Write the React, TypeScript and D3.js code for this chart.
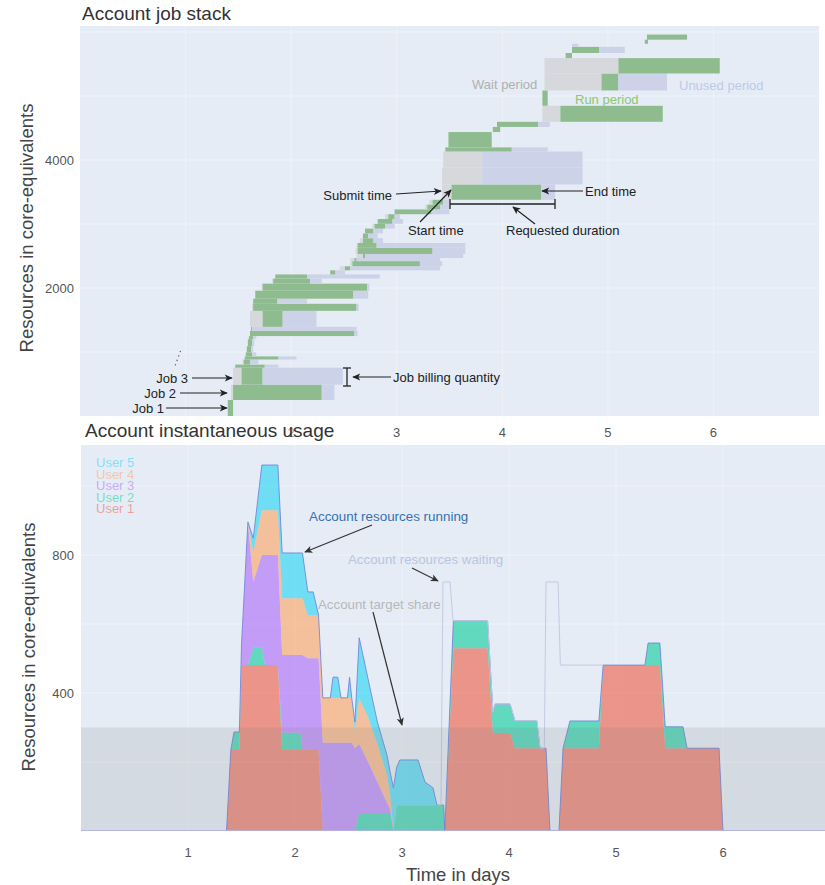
import React from "react";
import * as d3 from "d3";

// ---------------- Job stack data (time in days, size in core-equivalents) ----------------
const jobSubmit = [1.40,1.43,1.45,1.47,1.54,1.56,1.57,1.58,1.59,1.60,1.61,1.62,1.61,1.63,1.64,1.66,1.72,1.82,1.85,2.37,2.46,2.56,2.56,2.62,2.61,2.62,2.65,2.68,2.70,2.77,2.82,2.89,2.98,3.27,3.31,3.43,3.43,3.44,3.46,3.49,3.91,3.95,4.38,4.38,4.40,4.40,4.60,4.66,4.66,5.35,5.37];
const jobStart = [1.40,1.45,1.53,1.47,1.55,1.56,1.57,1.58,1.59,1.60,1.61,1.62,1.73,1.64,1.64,1.66,1.73,1.83,1.85,2.37,2.51,2.58,2.60,2.68,2.63,2.63,2.68,2.68,2.70,2.79,2.82,2.92,2.98,3.29,3.34,3.52,3.81,3.81,3.46,3.49,3.91,3.95,4.55,4.38,4.94,5.10,4.60,4.66,4.66,5.35,5.37];
const jobEnd = [1.45,2.29,1.73,1.75,1.61,1.88,1.63,1.62,1.63,1.64,2.60,1.63,1.92,2.62,1.87,2.59,2.72,2.18,2.15,2.42,2.56,3.22,2.62,2.70,3.34,2.81,2.78,2.73,2.78,2.89,2.96,2.98,3.33,3.41,3.44,4.37,3.81,3.81,4.09,3.90,3.98,4.34,5.52,4.43,5.10,6.06,4.66,4.92,4.66,5.38,5.75];
const jobRequestedEnd = [1.45,2.41,2.49,1.88,1.69,2.05,1.67,1.64,1.65,1.67,2.63,2.62,2.24,2.64,2.15,2.73,2.74,2.29,2.84,2.51,3.41,3.43,3.41,3.63,3.65,3.65,2.87,2.82,2.87,2.98,3.06,3.03,3.50,3.50,3.50,4.50,4.76,4.76,4.43,3.90,3.98,4.45,5.52,4.43,5.56,6.06,4.66,5.16,4.72,5.38,5.75];
const jobCores = [250,240,265,48,80,48,64,96,110,48,80,64,250,110,80,125,110,80,64,64,64,80,48,64,96,75,75,75,75,75,75,75,75,75,75,240,265,250,64,240,80,80,250,240,265,240,80,96,48,64,80];

// ---------------- Instantaneous usage data ----------------
const usageTime = [0,1.36,1.40,1.43,1.48,1.50,1.56,1.61,1.69,1.72,1.84,1.88,2.05,2.07,2.12,2.17,2.22,2.26,2.33,2.355,2.40,2.43,2.49,2.51,2.53,2.56,2.60,2.68,2.77,2.86,2.89,2.92,2.95,2.98,3.15,3.215,3.29,3.327,3.39,3.40,3.48,3.80,3.85,3.87,4.01,4.056,4.26,4.29,4.346,4.383,4.467,4.505,4.57,4.84,4.88,5.27,5.30,5.41,5.46,5.626,5.664,5.963,6.00,7.00];
const user1 = [0,0,235,235,235,481,481,481,481,481,481,235,235,235,235,235,235,0, 0,0,0,0,0,0,0,0,0,0,0,0,0,0,0,0,0,0,0,0,0,0, 530,530,284,284,284,240,240,240,240,0,0,240,240,240,481,481,481,481,240,240,240,240,0,0];
const user2 = [0,0,0,52,52,0,0,50,50,0,0,50,50,0,0,0,0,0,0,0,0,0,0,0,0,0,52,52,52,52,52,0,75,75,75,75,75,75,75,0,79,79,60,84,84,79,79,0,0,0,0,0,79,79,0,0,64,64,62,62,0,0,0,0];
const user3 = [0,0,0,0,0,60,415,191,269,319,319,225,225,275,266,266,266,256,256,256,256,256,256,256,256,240,200,150,90,30,10,0, 0,0,0,0,0,0,0,0,0,0,0,0,0,0,0,0,0,0,0,0,0,0,0,0,0,0,0,0,0,0,0,0];
const user4 = [0,0,0,0,0,0,0,87,130,130,130,165,165,165,125,125,125,130,130,130,130,130,130,130,130,50,134,130,110,80,40,0, 0,0,0,0,0,0,0,0,0,0,0,0,0,0,0,0,0,0,0,0,0,0,0,0,0,0,0,0,0,0,0,0];
const user5 = [0,0,0,0,0,0,0,40,131,131,131,131,131,131,67,67,0,0,0,60,60,0,0,60,0,26,174,113,64,58,68,125,110,131,131,67,50,0, 0,0,0,0,0,0,0,0,0,0,0,0,0,0,0,0,0,0,0,0,0,0,0,0,0,0];
const userNames = ["User 1", "User 2", "User 3", "User 4", "User 5"];
const userColors = ["#EF553B", "#00CC96", "#AB63FA", "#FFA15A", "#19D3F3"];

const waitingTime = [3.33,3.364,3.383,3.449,3.477,3.80,3.85,3.87,4.01,4.056,4.26,4.29,4.33,4.346,4.458,4.48,4.88];
const waitingValue = [75,75,722,722,609,609,344,368,368,319,319,240,240,722,722,481,481];
const targetShare = 300;

const xTicks = [1, 2, 3, 4, 5, 6];
const topYGrid = [1000, 2000, 3000, 4000, 5000, 6000];
const topYTicks = [2000, 4000];
const botYGrid = [200, 400, 600, 800, 1000];
const botYTicks = [400, 800];

const FONT = '"Liberation Sans", Arial, sans-serif';
const BG = "#E5ECF6";

export default function App() {
  // scales
  const xTop = d3.scaleLinear().domain([0, 7]).range([80, 819]);
  const yTop = d3.scaleLinear().domain([0, 6094]).range([416, 26]);
  const xBot = d3.scaleLinear().domain([0, 7]).range([81, 830]);
  const yBot = d3.scaleLinear().domain([0, 1119]).range([831, 445]);

  const offsets = [0, ...Array.from(d3.cumsum(jobCores))];

  const rows = usageTime.map((t, i) => ({ t, u1: user1[i], u2: user2[i], u3: user3[i], u4: user4[i], u5: user5[i] }));
  const keys = ["u1", "u2", "u3", "u4", "u5"];
  const series = d3.stack<any>().keys(keys)(rows);
  const area = d3.area<any>().x((d) => xBot(d.data.t)).y0((d) => yBot(d[0])).y1((d) => yBot(d[1]));
  const totalLine = d3.line<any>().x((d) => xBot(d.t)).y((d) => yBot(d.u1 + d.u2 + d.u3 + d.u4 + d.u5));
  const waitLine = d3.line<number>().x((d, i) => xBot(waitingTime[i])).y((d) => yBot(d));

  const arrow = (x1: number, y1: number, x2: number, y2: number, color = "#222", id = "ahBlack") => (
    <line x1={x1} y1={y1} x2={x2} y2={y2} stroke={color} strokeWidth={1.2} markerEnd={`url(#${id})`} />
  );

  return (
    <svg width={825} height={885} style={{ position: "absolute", left: 0, top: 0, fontFamily: FONT }}>
      <defs>
        <marker id="ahBlack" viewBox="0 0 10 10" refX="9" refY="5" markerUnits="userSpaceOnUse" markerWidth={10} markerHeight={8} orient="auto">
          <path d="M0,0.5 L10,5 L0,9.5 L2.5,5 z" fill="#222" />
        </marker>
        <marker id="ahGray" viewBox="0 0 10 10" refX="9" refY="5" markerUnits="userSpaceOnUse" markerWidth={10} markerHeight={8} orient="auto">
          <path d="M0,0.5 L10,5 L0,9.5 L2.5,5 z" fill="#333" />
        </marker>
        <clipPath id="clipBot">
          <rect x={81} y={445} width={749} height={386} />
        </clipPath>
        <clipPath id="clipTop">
          <rect x={80} y={26} width={739} height={390} />
        </clipPath>
      </defs>

      {/* ===================== TOP: Account job stack ===================== */}
      <rect x={80} y={26} width={739} height={390} fill={BG} />
      {topYGrid.map((v) => (
        <line key={"tg" + v} x1={80} x2={819} y1={yTop(v)} y2={yTop(v)} stroke="#fff" strokeWidth={1} opacity={0.45} />
      ))}
      {xTicks.map((v) => (
        <line key={"tx" + v} x1={xTop(v)} x2={xTop(v)} y1={26} y2={416} stroke="#fff" strokeWidth={1} opacity={0.35} />
      ))}
      <g clipPath="url(#clipTop)">
        {jobCores.map((c, i) => {
          const y0 = yTop(offsets[i]);
          const y1 = yTop(offsets[i] + c);
          const h = y0 - y1;
          return (
            <g key={"job" + i}>
              <rect x={xTop(jobSubmit[i])} y={y1} width={Math.max(0, xTop(jobStart[i]) - xTop(jobSubmit[i]))} height={h} fill="#D6D8DC" />
              <rect x={xTop(jobStart[i])} y={y1} width={Math.max(0, xTop(jobEnd[i]) - xTop(jobStart[i]))} height={h} fill="#8FBC8F" />
              <rect x={xTop(jobEnd[i])} y={y1} width={Math.max(0, xTop(jobRequestedEnd[i]) - xTop(jobEnd[i]))} height={h} fill="#CCD2E8" />
            </g>
          );
        })}
      </g>
      {topYTicks.map((v) => (
        <text key={"tyl" + v} x={74} y={yTop(v)} dy="0.35em" textAnchor="end" fontSize={13} fill="#555">{v}</text>
      ))}
      {xTicks.map((v) => (
        <text key={"txl" + v} x={xTop(v)} y={437} textAnchor="middle" fontSize={13} fill="#555" fillOpacity={v <= 2 ? 0.6 : 1}>{v}</text>
      ))}
      <text x={82} y={20} fontSize={19} fill="#333">Account job stack</text>
      <text transform="translate(33,228) rotate(-90)" textAnchor="middle" fontSize={18.5} fill="#444">Resources in core-equivalents</text>

      {/* top annotations */}
      <text x={472} y={84} dy="0.35em" fontSize={13} fill="#B0B0B0">Wait period</text>
      <text x={575} y={99} dy="0.35em" fontSize={13} fill="#8CC870">Run period</text>
      <text x={679} y={85} dy="0.35em" fontSize={13} fill="#BCCAE8">Unused period</text>

      <text x={392} y={195} dy="0.35em" textAnchor="end" fontSize={13} fill="#222">Submit time</text>
      {arrow(396, 194, 441, 191)}
      <text x={408} y={230} dy="0.35em" fontSize={13} fill="#222">Start time</text>
      {arrow(420, 222, 451, 190)}
      <text x={585} y={191} dy="0.35em" fontSize={13} fill="#222">End time</text>
      {arrow(583, 191, 542, 191)}
      <line x1={450} x2={555} y1={204} y2={204} stroke="#222" strokeWidth={1.3} />
      <line x1={450} x2={450} y1={199} y2={209} stroke="#222" strokeWidth={1.3} />
      <line x1={555} x2={555} y1={199} y2={209} stroke="#222" strokeWidth={1.3} />
      <text x={506} y={230} dy="0.35em" fontSize={13} fill="#222">Requested duration</text>
      {arrow(535, 224, 513, 207)}

      <line x1={347} x2={347} y1={368} y2={386} stroke="#222" strokeWidth={1.3} />
      <line x1={343} x2={351} y1={368} y2={368} stroke="#222" strokeWidth={1.3} />
      <line x1={343} x2={351} y1={386} y2={386} stroke="#222" strokeWidth={1.3} />
      {arrow(391, 377, 353, 377)}
      <text x={393} y={377} dy="0.35em" fontSize={13} fill="#222">Job billing quantity</text>

      <text x={188} y={378} dy="0.35em" textAnchor="end" fontSize={13} fill="#222">Job 3</text>
      {arrow(192, 378, 232, 378)}
      <text x={176} y={393} dy="0.35em" textAnchor="end" fontSize={13} fill="#222">Job 2</text>
      {arrow(180, 393, 227, 393)}
      <text x={164} y={408} dy="0.35em" textAnchor="end" fontSize={13} fill="#222">Job 1</text>
      {arrow(166, 408, 227, 408)}
      <line x1={180.5} y1={351} x2={175} y2={366} stroke="#555" strokeWidth={1.2} strokeDasharray="1.2,3.5" />

      {/* ===================== BOTTOM: Account instantaneous usage ===================== */}
      <rect x={81} y={445} width={749} height={386} fill={BG} />
      {botYGrid.map((v) => (
        <line key={"bg" + v} x1={81} x2={830} y1={yBot(v)} y2={yBot(v)} stroke="#fff" strokeWidth={1} opacity={0.45} />
      ))}
      {xTicks.map((v) => (
        <line key={"bx" + v} x1={xBot(v)} x2={xBot(v)} y1={445} y2={831} stroke="#fff" strokeWidth={1} opacity={0.35} />
      ))}
      <g clipPath="url(#clipBot)">
        {series.map((s, i) => (
          <path key={"area" + i} d={area(s) || ""} fill={userColors[i]} fillOpacity={0.58} stroke="none" />
        ))}
        <path d={totalLine(rows) || ""} fill="none" stroke="#6F84D8" strokeWidth={1} strokeOpacity={0.85} />
        <path d={waitLine(waitingValue) || ""} fill="none" stroke="#C2CBE2" strokeWidth={1} />
        <rect x={81} y={yBot(targetShare)} width={749} height={yBot(0) - yBot(targetShare)} fill="#808080" fillOpacity={0.17} />
        <line x1={81} x2={830} y1={yBot(0)} y2={yBot(0)} stroke="#B4BAE4" strokeWidth={1.5} />
      </g>
      {botYTicks.map((v) => (
        <text key={"byl" + v} x={74} y={yBot(v)} dy="0.35em" textAnchor="end" fontSize={13} fill="#555">{v}</text>
      ))}
      {xTicks.map((v) => (
        <text key={"bxl" + v} x={xBot(v)} y={857} textAnchor="middle" fontSize={13} fill="#555">{v}</text>
      ))}
      <text x={85} y={437} fontSize={19} fill="#333">Account instantaneous usage</text>
      <text transform="translate(35,647) rotate(-90)" textAnchor="middle" fontSize={18.5} fill="#444">Resources in core-equivalents</text>
      <text x={458} y={881} textAnchor="middle" fontSize={18.5} fill="#444">Time in days</text>

      {/* legend */}
      {userNames.map((n, i) => (
        <text key={"lg" + i} x={96} y={513 - i * 11.5} fontSize={13} fill={userColors[i]} fillOpacity={0.5}>{n}</text>
      ))}

      {/* bottom annotations */}
      <text x={309} y={516} dy="0.35em" fontSize={13.4} fill="#3572B0">Account resources running</text>
      {arrow(372, 525, 305, 552, "#333", "ahGray")}
      <text x={348} y={559} dy="0.35em" fontSize={13.3} fill="#B9C6E2">Account resources waiting</text>
      {arrow(412, 568, 438, 581, "#333", "ahGray")}
      <text x={318} y={604} dy="0.35em" fontSize={13.3} fill="#B8B8B8">Account target share</text>
      {arrow(373, 612, 402, 725, "#333", "ahGray")}
    </svg>
  );
}
